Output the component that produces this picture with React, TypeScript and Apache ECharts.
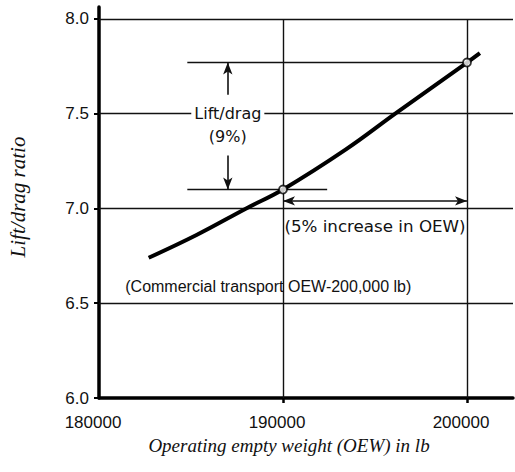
import React, { useEffect, useRef } from "react";
import * as echarts from "echarts";

// Curve: lift/drag ratio vs operating empty weight
const curveX = [182700, 185300, 188000, 190000, 193400, 196100, 200000, 200700];
const curveY = [6.74, 6.86, 7.0, 7.1, 7.31, 7.5, 7.77, 7.82];
// Marked points
const markX = [190000, 200000];
const markY = [7.1, 7.77];
// Ticks
const yTicks = [6.0, 6.5, 7.0, 7.5, 8.0];
const xTicks = [180000, 190000, 200000];
const xMinorTicks = [190000, 200000];
const gridYValues = [6.5, 7.0, 7.5, 8.0];
const gridXValues = [190000, 200000];

const SANS = "'Liberation Sans', Arial, sans-serif";
const SERIF = "'Liberation Serif', 'Times New Roman', serif";

export default function App() {
  const ref = useRef<HTMLDivElement>(null);
  useEffect(() => {
    if (!ref.current) return;
    const chart = echarts.init(ref.current, null, { renderer: "svg" });
    const line = (a: number[], b: number[]) => [{ coord: a }, { coord: b }];
    const option: any = {
      animation: false,
      grid: { left: 99, right: 2, top: 7, bottom: 74 },
      xAxis: {
        type: "value",
        min: 180000,
        max: 202500,
        splitLine: { show: false },
        axisLine: { lineStyle: { color: "#000", width: 3.5 } },
        axisTick: { customValues: xMinorTicks, length: 5, lineStyle: { color: "#000", width: 2.5 } },
        axisLabel: { show: false },
      },
      yAxis: {
        type: "value",
        min: 6,
        max: 8.063,
        splitLine: { show: false },
        axisLine: { lineStyle: { color: "#000", width: 3.5 } },
        axisTick: { customValues: yTicks, length: 5, lineStyle: { color: "#000", width: 2 } },
        axisLabel: {
          customValues: yTicks,
          formatter: (v: number) => v.toFixed(1),
          margin: 10,
          color: "#111",
          fontSize: 17,
          fontFamily: SANS,
        },
      },
      series: [
        {
          type: "line",
          data: [],
          silent: true,
          markLine: {
            silent: true,
            symbol: ["none", "none"],
            label: { show: false },
            lineStyle: { color: "#111", width: 1.4, type: "solid" },
            data: [
              ...gridYValues.map((v) => ({ yAxis: v })),
              ...gridXValues.map((v) => line([v, 6], [v, 8])),
              line([184800, 7.77], [200000, 7.77]),
              line([184800, 7.1], [192400, 7.1]),
            ],
          },
        },
        {
          type: "line",
          data: [],
          silent: true,
          markLine: {
            silent: true,
            symbol: ["none", "arrow"],
            symbolSize: [7, 12],
            label: { show: false },
            lineStyle: { color: "#111", width: 1.6, type: "solid" },
            data: [line([187000, 7.6], [187000, 7.77]), line([187000, 7.28], [187000, 7.1])],
          },
        },
        {
          type: "line",
          data: [],
          silent: true,
          markLine: {
            silent: true,
            symbol: ["arrow", "arrow"],
            symbolSize: [7, 12],
            label: { show: false },
            lineStyle: { color: "#111", width: 1.6, type: "solid" },
            data: [line([190000, 7.04], [200000, 7.04])],
          },
        },
        {
          type: "line",
          smooth: 0.4,
          showSymbol: false,
          lineStyle: { color: "#000", width: 4 },
          data: curveX.map((x, i) => [x, curveY[i]]),
          z: 5,
        },
        {
          type: "scatter",
          symbol: "circle",
          symbolSize: 8,
          itemStyle: { color: "#fff", borderColor: "#000", borderWidth: 1.8 },
          data: markX.map((x, i) => [x, markY[i]]),
          z: 6,
        },
      ],
    };
    chart.setOption(option);

    const px = (x: number, y: number) => chart.convertToPixel({ gridIndex: 0 }, [x, y]) as number[];
    const txt = (
      text: string,
      p: number[],
      font: string,
      extra: any = {},
      rotation = 0
    ) => ({
      type: "text",
      x: p[0],
      y: p[1],
      rotation,
      z: 10,
      style: {
        text,
        font,
        fill: "#111",
        align: "center",
        verticalAlign: "middle",
        textAlign: "center",
        textVerticalAlign: "middle",
        ...extra,
      },
    });
    const pLD = px(187000, 7.5);
    const p9 = px(187000, 7.38);
    const p5 = px(195000, 6.905);
    const pC = px(189200, 6.59);
    const xLabelEls = xTicks.map((v) => {
      const p = px(v, 6);
      return txt(String(v), [p[0] - 6, p[1] + 24], `17px ${SANS}`);
    });
    chart.setOption({
      graphic: [
        ...xLabelEls,
        txt("Lift/drag", pLD, `16px 'DejaVu Sans', sans-serif`, { backgroundColor: "#fff", padding: [0, 3] }),
        txt("(9%)", p9, `16px 'DejaVu Sans', sans-serif`),
        txt("(5% increase in OEW)", p5, `16.7px 'DejaVu Sans', sans-serif`),
        txt("(Commercial transport OEW-200,000 lb)", pC, `16px ${SANS}`),
        txt("Operating empty weight (OEW) in lb", [289, 445], `italic 19px ${SERIF}`),
        txt("Lift/drag ratio", [18, 197], `italic 21px ${SERIF}`, {}, Math.PI / 2),
      ],
    });
    return () => chart.dispose();
  }, []);
  return (
    <div
      ref={ref}
      style={{ position: "absolute", left: 0, top: 0, width: 515, height: 472, background: "#fff" }}
    />
  );
}
